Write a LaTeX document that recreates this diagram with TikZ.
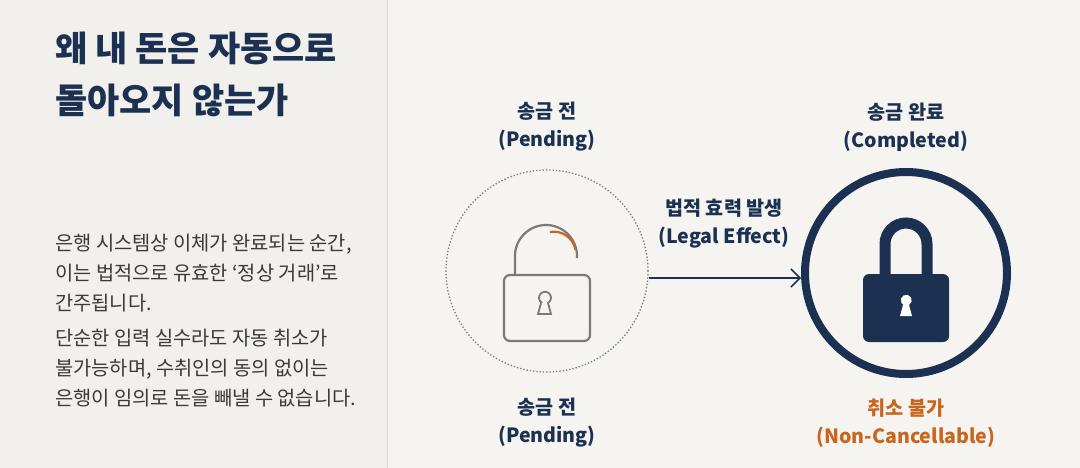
\documentclass[tikz,border=0pt]{standalone}
\usepackage{fontspec}
\setmainfont{Noto Sans CJK KR}
\usetikzlibrary{arrows.meta}
\definecolor{navy}{HTML}{1C3152}
\definecolor{bgL}{HTML}{F1F0EC}
\definecolor{bgR}{HTML}{F5F4F0}
\definecolor{txt}{HTML}{3A3A3A}
\definecolor{org}{HTML}{C8651E}
\definecolor{lk}{HTML}{7A7A7A}
\tikzset{
 lbl/.style={font=\bfseries\fontsize{19.6}{28}\selectfont, text=navy, align=center},
 body/.style={font=\fontsize{19.8}{30}\selectfont, text=txt, anchor=north west, align=left, inner sep=0pt},
}
\begin{document}
\begin{tikzpicture}[x=1pt,y=-1pt]
\useasboundingbox (0,0) rectangle (1080,468);
\fill[bgR] (0,0) rectangle (1080,468);
\fill[bgL] (0,0) rectangle (387,468);
\draw[black!15, line width=1pt] (387,0) -- (387,468);
\node[anchor=west, inner sep=0pt, font=\bfseries\fontsize{35}{40}\selectfont, text=navy] (t1) at (55,48) {왜 내 돈은 자동으로};
\node[anchor=west, inner sep=0pt, font=\bfseries\fontsize{35}{40}\selectfont, text=navy] (t2) at (55,100) {돌아오지 않는가};
\node[body] (b) at (55,234) {은행 시스템상 이체가 완료되는 순간,\\이는 법적으로 유효한 ‘정상 거래’로\\간주됩니다.\\[5pt]단순한 입력 실수라도 자동 취소가\\불가능하며, 수취인의 동의 없이는\\은행이 임의로 돈을 빼낼 수 없습니다.};
% left circle
\node[circle, draw=lk, dotted, line width=1.3pt, minimum size=202pt] (c1) at (547,271) {};
\draw[lk, line width=2.2pt, rounded corners=6pt] (504,275) rectangle (590,341);
\draw[lk, line width=2.2pt] (515,275) -- (515,256) arc[start angle=180, end angle=360, radius=31] -- (577,258);
\draw[org, line width=2.2pt] (550,232) arc[start angle=-100, end angle=-10, radius=22];
\draw[lk, line width=1.8pt] (541,303) -- (538,314) -- (551,314) -- (548,303) arc[start angle=60, end angle=-240, radius=6] ;
% right circle
\node[circle, draw=navy, line width=8pt, minimum size=202pt] (c2) at (906,273) {};
\draw[navy, line width=11pt] (885,276) -- (885,244) arc[start angle=180, end angle=360, radius=21] -- (927,276);
\fill[navy, rounded corners=6pt] (863,274) rectangle (949,342);
\fill[white] (903,305) -- (900,316) -- (912,316) -- (909,305) arc[start angle=60, end angle=-240, radius=5.5];
% arrow
\draw[navy, line width=1.5pt, -{Straight Barb[length=9pt,width=18pt]}] (c1.east |- 0,278) -- (c2.west |- 0,278);
\node[lbl] (l1) at (547,127) {송금 전\\(Pending)};
\node[lbl] (l2) at (906,127) {송금 완료\\(Completed)};
\node[lbl] (l3) at (724,224) {법적 효력 발생\\(Legal Effect)};
\node[lbl] (l4) at (547,423) {송금 전\\(Pending)};
\node[lbl, text=org] (l5) at (906,423) {취소 불가\\(Non-Cancellable)};
\end{tikzpicture}
\end{document}
